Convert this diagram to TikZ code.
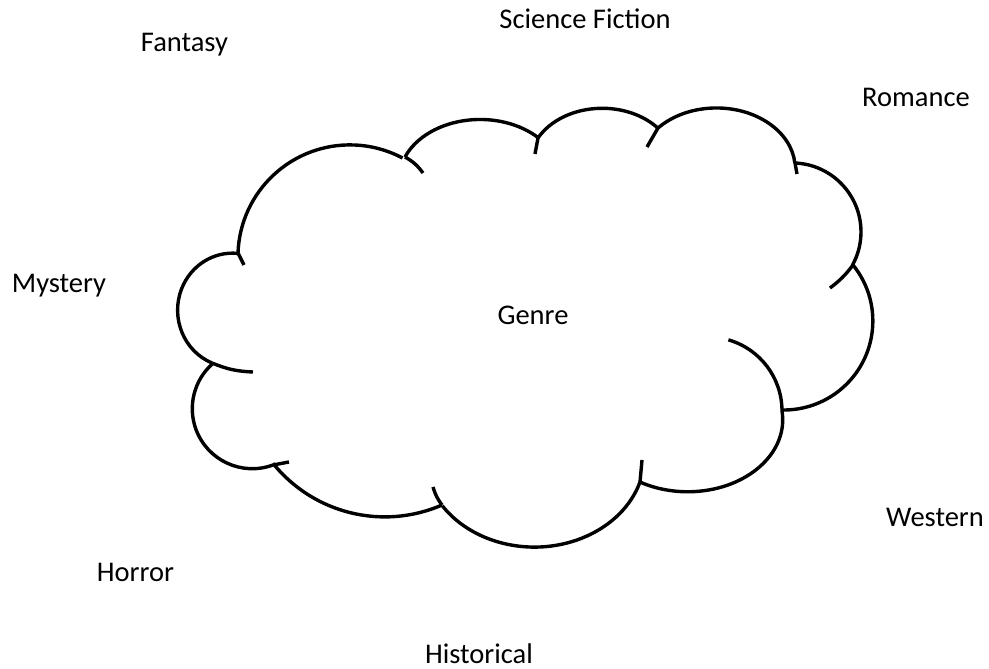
\documentclass[tikz,border=0pt]{standalone}
\usepackage{fontspec}
\setmainfont{Carlito}

\begin{document}
\begin{tikzpicture}[x=1pt, y=1pt,
    outline/.style={line width=3.4pt, line join=round},
    genrename/.style={anchor=base, inner sep=0pt, font=\fontsize{28.5}{34}\selectfont}]

\useasboundingbox (0,0) rectangle (989,669);

% Junctions of the cloud outline
\coordinate (j1) at (238,416);
\coordinate (j2) at (405,512);
\coordinate (j3) at (538,531);
\coordinate (j4) at (658,541);
\coordinate (j5) at (795,506);
\coordinate (j6) at (853,404);
\coordinate (j7) at (782,258);
\coordinate (j8) at (640,187);
\coordinate (j9) at (442,164);
\coordinate (j10) at (273,204);
\coordinate (j11) at (212,306);

% Cloud bumps
\draw[outline] (j1) arc[start angle=178, end angle=62, radius=112];
\draw[outline] (j2) arc[start angle=158, end angle=44, x radius=81, y radius=60];
\draw[outline] (j3) arc[start angle=152, end angle=40, x radius=72.8, y radius=56];
\draw[outline] (j4) arc[start angle=138, end angle=5, x radius=78.7, y radius=60.5];
\draw[outline] (j5) arc[start angle=87.5, end angle=-29, radius=69];
\draw[outline] (j6) arc[start angle=39, end angle=-91, radius=89];
\draw[outline] (j7) arc[start angle=7, end angle=-120, x radius=95, y radius=72];
\draw[outline] (j8) arc[start angle=-17, end angle=-146.6, x radius=110.4, y radius=92];
\draw[outline] (j9) arc[start angle=-66.5, end angle=-141.2, radius=143.5];
\draw[outline] (j10) arc[start angle=-69.8, end angle=-228.4, radius=60];
\draw[outline] (j11) arc[start angle=248, end angle=85, x radius=55, y radius=57];

% Inner hooks
\draw[outline] (j1) -- (244,404);
\draw[outline] (j2) to[bend left=12] (423,496);
\draw[outline] (j3) -- (535,515);
\draw[outline] (j4) -- (647,522);
\draw[outline] (j5) -- (797,495);
\draw[outline] (j6) to[bend left=8] (830,381);
\draw[outline] (j7) arc[start angle=0, end angle=74, radius=74];
\draw[outline] (j8) -- (642,209);
\draw[outline] (j9) to[bend left=10] (433,182);
\draw[outline] (j10) -- (289,207);
\draw[outline] (j11) to[bend right=10] (253,297);

% Labels
\node[genrename] (genre) at (533,344) {Genre};
\node[genrename] (scifi) at (585,640) {Science Fiction};
\node[genrename] (fantasy) at (184.5,617) {Fantasy};
\node[genrename] (romance) at (916,562) {Romance};
\node[genrename] (mystery) at (59,376) {Mystery};
\node[genrename] (western) at (935,142) {Western};
\node[genrename] (horror) at (135.5,87) {Horror};
\node[genrename] (historical) at (479,5) {Historical};

\end{tikzpicture}
\end{document}
